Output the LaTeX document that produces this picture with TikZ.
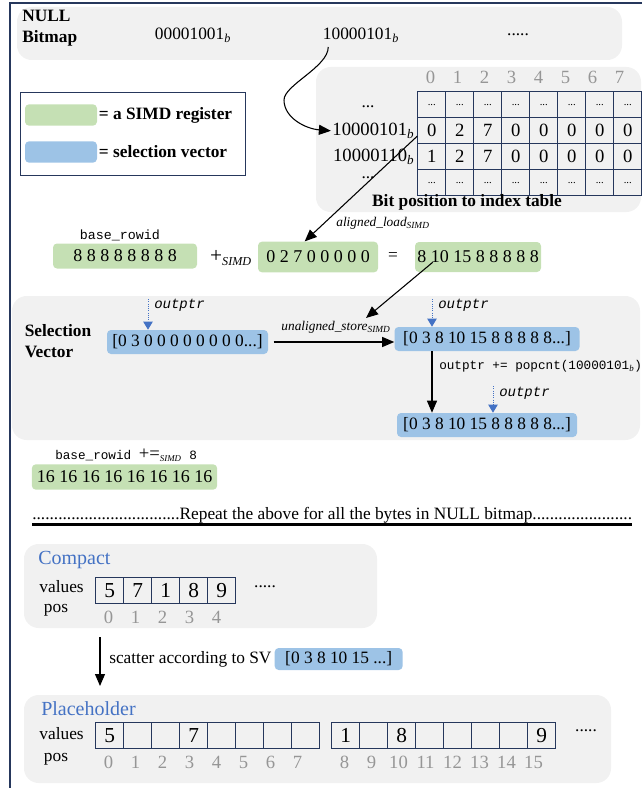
\documentclass[tikz,border=0pt]{standalone}
\usepackage{fontspec}
\setmainfont{Liberation Serif}
\setmonofont{Liberation Mono}
\usetikzlibrary{matrix,arrows.meta,positioning}
\definecolor{regGreen}{RGB}{197,224,180}
\definecolor{selBlue}{RGB}{157,195,230}
\definecolor{panelGray}{RGB}{241,241,241}
\definecolor{frameNavy}{RGB}{38,55,92}
\definecolor{ptrBlue}{RGB}{68,114,196}
\definecolor{posGray}{RGB}{150,150,150}
\newcommand{\lowsub}[1]{\textsubscript{\normalfont\itshape #1}}
\newcommand{\celldots}{{\fontsize{8}{8}\selectfont...}}
\tikzset{
  panel/.style={fill=panelGray,rounded corners=11pt},
  lbl/.style={font=\fontsize{13}{14}\selectfont},
  boldlbl/.style={font=\bfseries\fontsize{13}{16}\selectfont},
  codetxt/.style={font=\ttfamily\fontsize{9.5}{10}\selectfont},
  ptrlbl/.style={font=\ttfamily\itshape\fontsize{10.5}{11}\selectfont},
  opname/.style={font=\itshape\fontsize{10}{11}\selectfont},
  posnum/.style={text=posGray,font=\fontsize{14}{15}\selectfont},
  heading/.style={text=ptrBlue,font=\fontsize{15}{16}\selectfont},
  simdreg/.style={fill=regGreen,rounded corners=3pt,inner sep=0pt,font=\fontsize{13.5}{14}\selectfont},
  selvec/.style={fill=selBlue,rounded corners=3pt,inner sep=0pt,minimum height=18pt,font=\fontsize{13}{14}\selectfont},
  swatch/.style={rounded corners=3pt,minimum width=54pt,minimum height=16pt,inner sep=0pt},
  tcell/.style={draw=frameNavy,line width=0.8pt,anchor=center,minimum width=21pt,minimum height=19.5pt,inner sep=0pt,font=\fontsize{14}{15}\selectfont},
  vcell/.style={draw=frameNavy,line width=0.8pt,anchor=center,minimum width=21pt,minimum height=19.5pt,inner sep=0pt,font=\fontsize{16}{16}\selectfont},
  flow/.style={-{Triangle[length=9pt,width=7.5pt]},line width=0.8pt},
  ptr/.style={densely dotted,ptrBlue,line width=0.7pt,-{Triangle[length=6pt,width=7pt]}}
}
\begin{document}
\begin{tikzpicture}[x=0.75pt,y=-0.75pt]
\useasboundingbox (0,0) rectangle (642,788);
\draw[frameNavy,line width=1.1pt] (642,3) -- (10,3) -- (10,788);

\fill[panel] (17,7) rectangle (622,60);
\node[boldlbl,align=left,anchor=north west,inner sep=0pt] (nb) at (22,10) {NULL\\Bitmap};
\node[lbl] (bm1) at (193,35) {00001001\lowsub{b}};
\node[lbl] (bm2) at (361,35) {10000101\lowsub{b}};
\node[lbl] (bm3) at (518,35) {.....};

\node[draw=frameNavy,line width=0.8pt,minimum width=168.75pt,minimum height=62.25pt,anchor=north west] (leg) at (20,92) {};
\node[swatch,fill=regGreen] (legG) at (61,115) {};
\node[boldlbl,right=1pt of legG,inner sep=0pt] (legGt) {= a SIMD register};
\node[swatch,fill=selBlue] (legB) at (61,152) {};
\node[boldlbl,right=1pt of legB,inner sep=0pt] (legBt) {= selection vector};

\fill[panel] (316,67) rectangle (641,212);
\foreach \i in {0,...,7}
  \node[posnum] (hd\i) at ({430.5+27*\i},77) {\i};
\matrix (idx) [matrix of nodes,nodes={tcell},nodes in empty cells,column sep=-0.8pt,row sep=-0.8pt,inner sep=0pt,anchor=north west] at (417,91)
{
  \celldots & \celldots & \celldots & \celldots & \celldots & \celldots & \celldots & \celldots \\
  0 & 2 & 7 & 0 & 0 & 0 & 0 & 0 \\
  1 & 2 & 7 & 0 & 0 & 0 & 0 & 0 \\
  \celldots & \celldots & \celldots & \celldots & \celldots & \celldots & \celldots & \celldots \\
};
\node[lbl,inner sep=0pt] (r0) at (368,107) {...};
\node[font=\fontsize{14}{15}\selectfont,anchor=east,inner sep=1pt] (r1) at ([xshift=-1pt]idx-2-1.west) {10000101\lowsub{b}};
\node[font=\fontsize{14}{15}\selectfont,anchor=east,inner sep=1pt] (r2) at ([xshift=-1pt]idx-3-1.west) {10000110\lowsub{b}};
\node[lbl,inner sep=0pt] (r3) at (368,178) {...};
\node[boldlbl,inner sep=0pt] (cap) at (467,202) {Bit position to index table};

\coordinate (loopL) at (284,100);
\draw[flow] ([xshift=7.5pt]bm2.south west) .. controls +(0,20) and +(0,-15) .. (loopL)
  .. controls +(0,18) and +(-25,-2) .. (r1.west);

\node[codetxt,font=\ttfamily\fontsize{10}{11}\selectfont] (brw) at (120,235) {base\_rowid};
\node[simdreg,minimum width=108pt,minimum height=18.75pt] (reg1) at (125,256) {8 8 8 8 8 8 8 8};
\node[lbl] (plus) at (231,258) {{\fontsize{16}{16}\selectfont+}\lowsub{SIMD}};
\node[simdreg,minimum width=90pt,minimum height=23pt] (reg2) at (318,257) {0 2 7 0 0 0 0 0};
\node[lbl] (eq) at (393,257) {=};
\node[simdreg,minimum width=94.5pt,minimum height=22.5pt] (reg3) at (478,257) {8 10 15 8 8 8 8 8};

\draw[flow] ([yshift=-4pt]idx-2-1.west) -- ([xshift=-10pt]reg2.north);
\node[opname] (ald) at (383,223) {aligned\_load\lowsub{SIMD}};

\fill[panel] (12,296) rectangle (640,440);
\node[boldlbl,align=left] (svt) at (58,341) {Selection\\Vector};
\node[selvec,minimum width=120.75pt] (sv1) at (187.5,342) {[0 3 0 0 0 0 0 0 0 0...]};
\node[selvec,minimum width=138.75pt] (sv2) at (487,339) {[0 3 8 10 15 8 8 8 8 8...]};
\node[selvec,minimum width=135pt] (sv3) at (487,425) {[0 3 8 10 15 8 8 8 8 8...]};

\coordinate (stTip) at (366,318);
\draw[flow] ([xshift=-34pt,yshift=-4pt]reg3.center) -- (stTip);
\node[opname] (ust) at (336,327) {unaligned\_store\lowsub{SIMD}};
\draw[flow] ([xshift=4pt]sv1.east) -- (sv1.east -| sv2.west);
\draw[flow] ([xshift=-41.25pt]sv2.south) -- ([xshift=-41.25pt]sv3.north);
\node[codetxt,anchor=west,inner sep=0pt] (pc) at (439,366) {outptr += popcnt(10000101\lowsub{b})};

\coordinate (p1) at (148,299);
\draw[ptr] (p1) -- (p1 |- sv1.north);
\node[ptrlbl,anchor=west,inner sep=0pt] (o1) at (154,305) {outptr};
\coordinate (p2) at (432,299);
\draw[ptr] (p2) -- (p2 |- sv2.north);
\node[ptrlbl,anchor=west,inner sep=0pt] (o2) at (438,305) {outptr};
\coordinate (p3) at (493,386);
\draw[ptr] (p3) -- (p3 |- sv3.north);
\node[ptrlbl,anchor=west,inner sep=0pt] (o3) at (499,393) {outptr};

\node[codetxt,anchor=west,inner sep=0pt] (brw2) at (55,455) {base\_rowid {\normalfont\fontsize{14}{14}\selectfont +=}\lowsub{SIMD} 8};
\node[simdreg,minimum width=139pt,minimum height=19pt] (reg4) at (124.5,477) {16 16 16 16 16 16 16 16};

\node[lbl,anchor=west,inner sep=0pt] (rep) at (32,515) {..................................Repeat the above for all the bytes in NULL bitmap.......................};
\draw[line width=2pt] ([yshift=-1pt]rep.south west) -- ([yshift=-1pt]rep.south east);

\fill[panel] (24,544) rectangle (377,628);
\node[heading,anchor=west,inner sep=0pt] (cmpH) at (38,560) {Compact};
\node[lbl,anchor=east,inner sep=0pt] (cmpV) at (84,587) {values};
\matrix (cmp) [matrix of nodes,nodes={vcell},column sep=-0.8pt,inner sep=0pt,anchor=north west] at (95,577)
{
  5 & 7 & 1 & 8 & 9 \\
};
\node[lbl] (cmpD) at (265,587) {.....};
\node[lbl] (cmpP) at (56,610) {pos};
\foreach \i in {0,...,4}
  \node[posnum] at ({108.5+27*\i},617) {\i};

\coordinate (scTop) at (100,637);
\coordinate (scBot) at (100,686);
\draw[flow] (scTop) -- (scBot);
\node[lbl,anchor=west,inner sep=0pt] (sct) at (109,659) {scatter according to SV};
\node[selvec,minimum width=96pt,minimum height=16.5pt,right=2pt of sct] (svs) {[0 3 8 10 15 ...]};

\fill[panel] (24,695) rectangle (611,783);
\node[heading,anchor=west,inner sep=0pt] (phH) at (41,709) {Placeholder};
\node[lbl,anchor=east,inner sep=0pt] (phV) at (84,734) {values};
\matrix (phA) [matrix of nodes,nodes={vcell},nodes in empty cells,column sep=-0.8pt,inner sep=0pt,anchor=north west] at (95,722)
{
  5 & & & 7 & & & & \\
};
\matrix (phB) [matrix of nodes,nodes={vcell},nodes in empty cells,column sep=-0.8pt,inner sep=0pt,anchor=north west] at (331,722)
{
  1 & & 8 & & & & & 9 \\
};
\node[lbl] (phD) at (586,731) {.....};
\node[lbl] (phP) at (56,759) {pos};
\foreach \i in {0,...,7}
  \node[posnum] at ({108.5+27*\i},762) {\i};
\foreach \i in {8,...,15}
  \node[posnum] at ({344.5+27*(\i-8)},762) {\i};
\end{tikzpicture}
\end{document}
